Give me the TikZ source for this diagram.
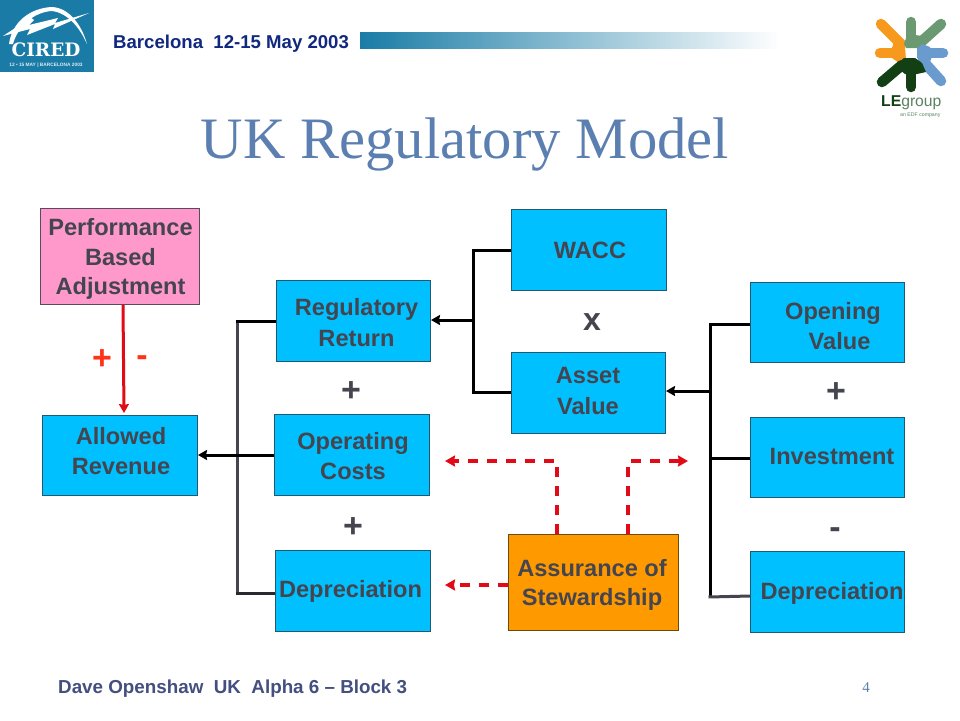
\documentclass[tikz,border=0pt]{standalone}
\usepackage{fontspec}
\setmainfont{Liberation Sans}
\newfontfamily\serifface{Liberation Serif}
\newfontfamily\slabface{DejaVu Serif}
\usetikzlibrary{arrows.meta,calc}
\definecolor{boxblue}{HTML}{00C0FF}
\definecolor{boxedge}{HTML}{1F5A70}
\definecolor{boxtext}{HTML}{454550}
\definecolor{pinkbox}{HTML}{FF99CC}
\definecolor{pinkedge}{HTML}{5A4A60}
\definecolor{orangebox}{HTML}{FF9900}
\definecolor{orangeedge}{HTML}{6B4A10}
\definecolor{redline}{HTML}{E30A17}
\definecolor{redsign}{HTML}{FF3318}
\definecolor{titleblue}{HTML}{5B7FB0}
\definecolor{navy}{HTML}{10287F}
\definecolor{cired}{HTML}{1A7CA6}
\definecolor{bandmid}{HTML}{A9BCCF}
\definecolor{lorange}{HTML}{F7991D}
\definecolor{lgreen}{HTML}{6B9A72}
\definecolor{lblue}{HTML}{6A9BCF}
\definecolor{ldark}{HTML}{123F14}
\tikzset{
  x=1pt,y=-1pt,
  box/.style={draw=boxedge,line width=1pt,fill=boxblue,inner sep=0pt,anchor=north west},
  pinkstyle/.style={fill=pinkbox,draw=pinkedge},
  orangestyle/.style={fill=orangebox,draw=orangeedge},
  lbl/.style={font=\fontsize{23.6}{29.5}\selectfont\bfseries,text=boxtext,align=center,inner sep=0pt},
  sym/.style={font=\fontsize{34}{34}\selectfont\bfseries,text=boxtext,inner sep=0pt},
  redsym/.style={font=\fontsize{34}{34}\selectfont\bfseries,text=redsign,inner sep=0pt},
  wire/.style={draw=black,line width=3pt,line join=miter},
  arrowwire/.style={wire,-{Stealth[length=9pt,width=10pt,inset=1pt]}},
  reddash/.style={draw=redline,line width=3.2pt,dash pattern=on 10pt off 9pt,-{Stealth[length=10pt,width=11pt,inset=1pt]}},
  petal/.style={line width=10.5pt,line cap=round,line join=round},
}
\newcommand{\blockbox}[7][]{%
  \node[box,#1,minimum width=#4pt,minimum height=#5pt] (#2) at (#3) {};
  \node[lbl] (#2t) at (#6) {#7};}
\begin{document}
\begin{tikzpicture}
\useasboundingbox (0,0) rectangle (960,720);
\fill[white] (0,0) rectangle (960,720);

% CIRED logo
\fill[cired] (0,0) rectangle (94,72);
\fill[white] (9,44) .. controls (12,22) and (30,8) .. (52,7) .. controls (70,8) and (82,26) .. (87,44)
  .. controls (80,28) and (68,13) .. (52,11) .. controls (34,12) and (18,26) .. (13,44) -- cycle;
\fill[white] (3,36) -- (26,21) -- (30,17) -- (34,20) -- (29,25) -- (58,18) -- (55,23) -- (89,13) -- (53,29) -- (55,24) -- (27,35) -- (30,29) -- cycle;
\node[font=\fontsize{18.5}{20}\selectfont\slabface\bfseries,text=white,inner sep=0pt] (ciredname) at (46,50) {CIRED};
\node[font=\fontsize{4.8}{5}\selectfont\bfseries,text=white!85!cired,inner sep=0pt] (cireddate) at (46,65) {12 • 15 MAY | BARCELONA 2003};

\node[font=\fontsize{18.6}{22}\selectfont\bfseries,text=navy,anchor=west,inner sep=0pt] (place) at (113,43.5) {Barcelona\ \ 12-15 May 2003};
\shade[left color=cired,middle color=bandmid,right color=white] (360,32) rectangle (780,48);

% LE group logo
\draw[petal,lorange] (881,24) -- (901,44);
\draw[petal,lorange] (880,53) -- (900,53);
\fill[lorange] (895,38) -- (905,47) -- (906,60) -- (899,63) -- (892,58) -- (892,48) -- cycle;
\draw[petal,lgreen] (911,22) -- (911,40);
\draw[petal,lgreen] (941,24) -- (921,42);
\fill[lgreen] (904,44) -- (907,35) -- (915,35) -- (930,37) -- (917,56) -- (917,48) -- (906,48) -- cycle;
\draw[petal,lblue] (943,53) -- (925,53);
\draw[petal,lblue] (941,81) -- (923,61);
\fill[lblue] (917,49) -- (922,44) -- (930,47) -- (932,57) -- (927,68) -- (917,58) -- cycle;
\draw[petal,ldark] (882,82) -- (902,65);
\draw[petal,ldark] (911,87) -- (911,66);
\fill[ldark] (895,66) -- (904,58) -- (915,58) -- (922,63) -- (926,72) -- (917,74) -- (905,74) -- cycle;
\node[font=\fontsize{15.7}{16}\selectfont,text=lgreen!85!black,anchor=west,inner sep=0pt] (legroup) at (881,103) {\textbf{\textcolor{ldark}{LE}}group};
\node[font=\fontsize{5.2}{6}\selectfont,text=lgreen!85!black,anchor=west,inner sep=0pt] (ledf) at (900,115) {an EDF company};

% Title
\node[font=\fontsize{58.7}{60}\selectfont\serifface,text=titleblue,inner sep=0pt] (title) at (465,144) {UK Regulatory Model};

% Boxes
\blockbox[pinkstyle]{pba}{40,208}{159}{96}{120.5,259}{Performance\\Based\\Adjustment}
\blockbox{wacc}{511,209}{155}{81}{590,250}{WACC}
\blockbox{regret}{276,280}{154}{81}{356.5,322.5}{Regulatory\\[1.5pt]Return}
\blockbox{openv}{750,282}{154}{80}{833,326}{Opening\\\ \ Value}
\blockbox{assetv}{511,352}{154}{81}{588,391}{Asset\\[1.5pt]Value}
\blockbox{allowed}{42,415}{155}{80}{121,451}{Allowed\\Revenue}
\blockbox{opcost}{274,414}{155}{81}{353,456}{Operating\\Costs}
\blockbox{invest}{750,417}{154}{80}{832,456}{Investment}
\blockbox{depl}{275,550}{155}{81}{350.5,591}{Depreciation}
\blockbox{depr}{750,551}{154}{81}{832,593}{Depreciation}
\blockbox[orangestyle]{assure}{508,534}{170}{96}{592,585}{Assurance of\\Stewardship}

% Symbols
\node[sym,font=\fontsize{32}{32}\selectfont\bfseries] (sx) at (592,322) {x};
\node[sym] (splus1) at (351,392) {+};
\node[sym] (splus2) at (353,528) {+};
\node[sym] (splus3) at (836,393) {+};
\node[sym] (sminus) at (835,533) {-};
\node[redsym] (rplus) at (102,360) {+};
\node[redsym] (rminus) at (142,361) {-};

% Junctions
\coordinate (lefttop) at (237,321);
\coordinate (leftbot) at (237,593);
\coordinate (midtop) at (473,250);
\coordinate (midbot) at (473,392);
\coordinate (righttop) at (710,324);
\coordinate (rightbot) at (710,597);

% Black connectors
\draw[wire,draw=boxtext] (lefttop) -- (leftbot);
\draw[wire] ([xshift=-1.5pt]lefttop) -- (regret.west |- lefttop);
\draw[wire,draw=boxtext!60!black] ([xshift=-1.5pt]leftbot) -- (depl.west |- leftbot);
\draw[arrowwire] (opcost.west |- 0,455) -- (allowed.east |- 0,455);
\draw[wire] (wacc.west |- midtop) -- (midtop) -- (midbot) -- (assetv.west |- midbot);
\draw[arrowwire] (473,320) -- (regret.east |- 0,320);
\draw[wire] (openv.west |- righttop) -- (righttop) -- (rightbot);
\draw[wire,draw=boxtext] ([xshift=-1.5pt]rightbot) -- (depr.west |- 0,596);
\draw[wire] (invest.west |- 0,458) -- (710,458);
\draw[arrowwire] (710,391) -- (assetv.east |- 0,391);

% Red connectors
\draw[draw=redline,line width=3pt,-{Stealth[length=9pt,width=10pt,inset=1pt]}] (pba.south -| 123,0) -- (124,413);
\draw[reddash] (assure.north -| 557,0) -- (557,461) -- (445,461);
\draw[reddash] (assure.north -| 628,0) -- (628,461) -- (688,461);
\draw[reddash] (assure.west |- 0,585) -- (445,585);

% Footer
\node[font=\fontsize{18.8}{22}\selectfont\bfseries,text=navy!55!gray,anchor=west,inner sep=0pt] (foot) at (58,689) {Dave Openshaw\ \ UK\ \ Alpha 6 -- Block 3};
\node[font=\fontsize{15}{18}\selectfont\serifface,text=titleblue,inner sep=0pt] (pnum) at (866,688) {4};
\end{tikzpicture}
\end{document}
